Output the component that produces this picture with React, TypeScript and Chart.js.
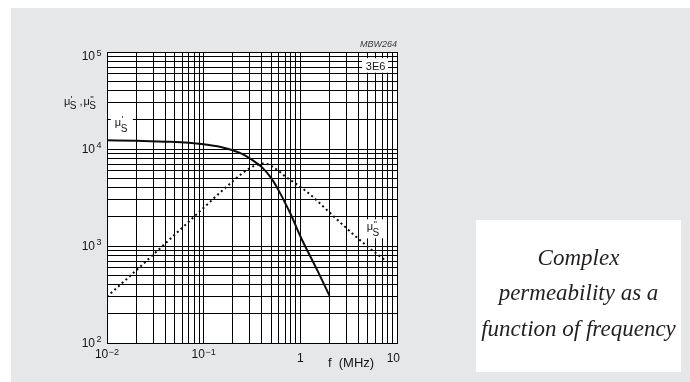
import React, { useEffect, useRef } from 'react';
import { Chart, registerables } from 'chart.js';

Chart.register(...registerables);

// Frequency axis (MHz) and permeability values
const freqReal = [0.01, 0.02, 0.04, 0.07, 0.1, 0.15, 0.2, 0.25, 0.3, 0.35, 0.4, 0.5, 0.6, 0.7, 0.8, 1.0, 1.5, 2.0];
const muReal = [12300, 12150, 11900, 11600, 11200, 10500, 9700, 8900, 8000, 7200, 6500, 5000, 3700, 2750, 2100, 1260, 560, 308];

const freqImag = [0.01, 0.02, 0.04, 0.07, 0.1, 0.15, 0.2, 0.25, 0.3, 0.35, 0.42, 0.5, 0.6, 0.7, 0.88, 1.1, 1.43, 2.0, 3.5, 5.0, 7.4];
const muImag = [300, 560, 1060, 1780, 2480, 3600, 4650, 5600, 6350, 6850, 7100, 6700, 5900, 5200, 4450, 3800, 3050, 2220, 1330, 980, 722];

// Axis ranges and labels
const xMin = 0.01;
const xMax = 10;
const yMin = 100;
const yMax = 100000;
const xTickValues = [0.01, 0.1, 1, 10];
const xTickBase = ['10', '10', '1', '10'];
const xTickExp = ['\u22122', '\u22121', '', ''];
const yTickValues = [100, 1000, 10000, 100000];
const yTickBase = ['10', '10', '10', '10'];
const yTickExp = ['2', '3', '4', '5'];
const xAxisTitle = 'f  (MHz)';
const codeLabel = 'MBW264';
const materialLabel = '3E6';
const captionLines = ['Complex', 'permeability as a', 'function of frequency'];

// label anchors in data space
const muRealLabelAt = { x: 0.0139, y: 18500 };
const muImagLabelAt = { x: 6.1, y: 1520 };
const materialLabelAt = { x: 6.0, y: 72300 };

function logGrid(min: number, max: number): number[] {
  const out: number[] = [];
  const e0 = Math.round(Math.log10(min));
  const e1 = Math.round(Math.log10(max));
  for (let e = e0; e < e1; e++) {
    for (let k = 1; k <= 9; k++) out.push(Number((k * Math.pow(10, e)).toPrecision(6)));
  }
  out.push(max);
  return out;
}

const xGrid = logGrid(xMin, xMax);
const yGrid = logGrid(yMin, yMax);

const SANS = '"Liberation Sans", Arial, Helvetica, sans-serif';
const INK = '#151515';

function drawMu(ctx: CanvasRenderingContext2D, x: number, base: number, primes: string, subDrop: number) {
  ctx.textAlign = 'left';
  ctx.textBaseline = 'alphabetic';
  ctx.font = `11px ${SANS}`;
  ctx.fillText('\u03bc', x, base);
  const w = ctx.measureText('\u03bc').width;
  ctx.font = `9px ${SANS}`;
  ctx.fillText(primes, x + w + 0.5, base - 3.5);
  ctx.font = `10px ${SANS}`;
  ctx.fillText('S', x + w - 0.5, base + subDrop);
  const sw = ctx.measureText('S').width;
  return x + w - 0.5 + sw;
}

const decor = {
  id: 'decor',
  beforeDraw(chart: any) {
    const { ctx, chartArea: a } = chart;
    ctx.save();
    ctx.fillStyle = '#ffffff';
    ctx.fillRect(a.left, a.top, a.right - a.left, a.bottom - a.top);
    ctx.restore();
  },
  afterDraw(chart: any) {
    const { ctx, chartArea: a, scales } = chart;
    const xs = scales.x;
    const ys = scales.y;
    ctx.save();
    ctx.fillStyle = INK;

    // y tick labels 10^n
    yTickValues.forEach((v, i) => {
      const py = ys.getPixelForValue(v);
      const base = Math.max(py + 3.5, a.top + 8);
      ctx.font = `12px ${SANS}`;
      ctx.textAlign = 'right';
      ctx.textBaseline = 'alphabetic';
      ctx.fillText(yTickBase[i], a.left - 12, base);
      ctx.font = `9px ${SANS}`;
      ctx.textAlign = 'left';
      ctx.fillText(yTickExp[i], a.left - 10.5, base - 4.5);
    });

    // x tick labels
    xTickValues.forEach((v, i) => {
      const px = xs.getPixelForValue(v);
      ctx.font = `12px ${SANS}`;
      const bw = ctx.measureText(xTickBase[i]).width;
      ctx.font = `9px ${SANS}`;
      const ew = xTickExp[i] ? ctx.measureText(xTickExp[i]).width + 0.5 : 0;
      let left = px - (bw + ew) / 2;
      if (left + bw + ew > a.right + 3) left = a.right + 3 - bw - ew;
      const base = a.bottom + (xTickExp[i] ? 15 : 19);
      ctx.textAlign = 'left';
      ctx.textBaseline = 'alphabetic';
      ctx.font = `12px ${SANS}`;
      ctx.fillText(xTickBase[i], left, base);
      if (xTickExp[i]) {
        ctx.font = `9px ${SANS}`;
        ctx.fillText(xTickExp[i], left + bw + 0.5, base - 3.5);
      }
    });

    // x axis title
    ctx.font = `13px ${SANS}`;
    ctx.textAlign = 'left';
    ctx.fillText(xAxisTitle, xs.getPixelForValue(2) - 1.5, a.bottom + 23.5);

    // y axis title  mu's , mu''s
    let tx = drawMu(ctx, 64, 105, "'", 3.5);
    ctx.font = `11px ${SANS}`;
    ctx.fillText(',', tx + 3, 105);
    drawMu(ctx, tx + 7, 105, "''", 3.5);

    // code label
    ctx.font = `italic 9px ${SANS}`;
    ctx.fillStyle = '#3a3a3a';
    ctx.textAlign = 'right';
    ctx.fillText(codeLabel, a.right, a.top - 5.5);

    // material label box
    {
      const cx = xs.getPixelForValue(materialLabelAt.x);
      const cy = ys.getPixelForValue(materialLabelAt.y);
      ctx.fillStyle = '#ffffff';
      ctx.fillRect(cx - 13.5, cy - 7.5, 26, 14.5);
      ctx.fillStyle = INK;
      ctx.font = `11px ${SANS}`;
      ctx.textAlign = 'center';
      ctx.fillText(materialLabel, cx, cy + 4);
    }

    // mu' label
    {
      const cx = xs.getPixelForValue(muRealLabelAt.x);
      const cy = ys.getPixelForValue(muRealLabelAt.y);
      ctx.fillStyle = '#ffffff';
      ctx.fillRect(cx - 10, cy - 9, 22, 19);
      ctx.fillStyle = INK;
      drawMu(ctx, cx - 6, cy + 2.5, "'", 6);
    }

    // mu'' label
    {
      const cx = xs.getPixelForValue(muImagLabelAt.x);
      const cy = ys.getPixelForValue(muImagLabelAt.y);
      ctx.fillStyle = '#ffffff';
      ctx.fillRect(cx - 11.5, cy - 9, 22, 19);
      ctx.fillStyle = INK;
      drawMu(ctx, cx - 9.5, cy + 2, "''", 6);
    }
    ctx.restore();
  },
};

export default function App() {
  const ref = useRef<HTMLCanvasElement | null>(null);

  useEffect(() => {
    if (!ref.current) return;
    const chart = new Chart(ref.current, {
      type: 'line',
      data: {
        datasets: [
          {
            label: "\u03bc's",
            data: freqReal.map((f, i) => ({ x: f, y: muReal[i] })),
            borderColor: '#0d0d0d',
            borderWidth: 2,
            pointRadius: 0,
            fill: false,
            cubicInterpolationMode: 'monotone',
          },
          {
            label: "\u03bc''s",
            data: freqImag.map((f, i) => ({ x: f, y: muImag[i] })),
            borderColor: '#0d0d0d',
            borderWidth: 2,
            borderDash: [2, 3],
            pointRadius: 0,
            fill: false,
            cubicInterpolationMode: 'monotone',
          },
        ],
      },
      options: {
        animation: false,
        responsive: false,
        devicePixelRatio: 1,
        events: [],
        layout: { padding: { left: 107, top: 52, right: 293, bottom: 39 } },
        plugins: { legend: { display: false }, tooltip: { enabled: false } },
        scales: {
          x: {
            type: 'logarithmic',
            min: xMin,
            max: xMax,
            afterBuildTicks: (s: any) => {
              s.ticks = xGrid.map((v) => ({ value: v }));
            },
            ticks: { display: false },
            grid: { color: '#000000', lineWidth: 1, drawTicks: false },
            border: { display: true, color: '#000000', width: 1 },
          },
          y: {
            type: 'logarithmic',
            min: yMin,
            max: yMax,
            afterBuildTicks: (s: any) => {
              s.ticks = yGrid.map((v) => ({ value: v }));
            },
            ticks: { display: false },
            grid: { color: '#000000', lineWidth: 1, drawTicks: false },
            border: { display: true, color: '#000000', width: 1 },
          },
        },
      },
      plugins: [decor],
    } as any);
    return () => chart.destroy();
  }, []);

  const captionBaselines = [265, 300, 336];

  return (
    <div style={{ position: 'absolute', left: 0, top: 0, width: 690, height: 382, background: '#ffffff', overflow: 'hidden' }}>
      <div style={{ position: 'absolute', left: 11, top: 8, width: 679, height: 374, background: '#e6e7e8' }} />
      <canvas ref={ref} width={690} height={382} style={{ position: 'absolute', left: 0, top: 0, width: 690, height: 382 }} />
      <div style={{ position: 'absolute', left: 476, top: 220, width: 205, height: 152, background: '#ffffff' }}>
        {captionLines.map((t, i) => (
          <div
            key={i}
            style={{
              position: 'absolute',
              left: -10,
              width: 225,
              top: captionBaselines[i] - 220 - 19,
              textAlign: 'center',
              fontFamily: '"Liberation Serif", "Times New Roman", serif',
              fontStyle: 'italic',
              fontSize: 23,
              lineHeight: '23px',
              color: '#231f20',
              whiteSpace: 'nowrap',
            }}
          >
            {t}
          </div>
        ))}
      </div>
    </div>
  );
}
